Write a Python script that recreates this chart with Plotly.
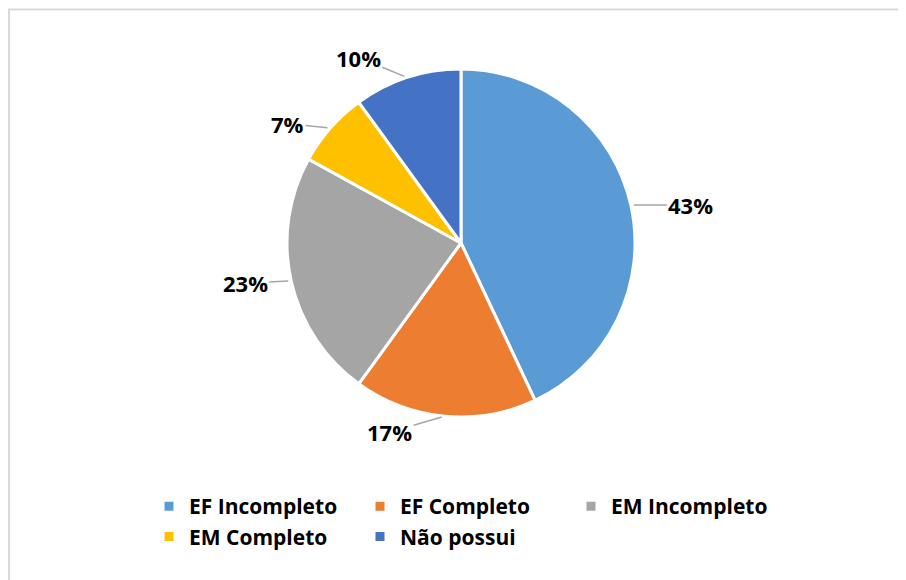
import math
import plotly.graph_objects as go

categories = ["EF Incompleto", "EF Completo", "EM Incompleto", "EM Completo", "Não possui"]
shares = [43, 17, 23, 7, 10]
colors = ["#5B9BD5", "#ED7D31", "#A5A5A5", "#FFC000", "#4472C4"]

# label offsets (pixels) from the slice's outer mid-point to the label centre
label_dx = [60, -55, -46, -43, -49]
label_dy = [0, 16, 2, -4, -20]

W, H = 906, 580
OFF = 8  # page body margin in the browser
L, R, T, B = 92, 92, 61, 171
PW, PH = W - L - R, H - T - B

FONT = "Open Sans, Calibri, sans-serif"


def px_x(p):
    return (p - L) / PW


def px_y(p):
    return 1 - (p - T) / PH


fig = go.Figure(go.Pie(
    labels=categories,
    values=shares,
    sort=False,
    direction="clockwise",
    rotation=0,
    marker=dict(colors=colors, line=dict(color="white", width=3)),
    textinfo="none",
    domain=dict(x=[0, 1], y=[0, 1]),
    hoverinfo="label+percent",
))

# outside percentage labels with leader lines, placed from the data
total = sum(shares)
cx, cy = L + PW / 2, T + PH / 2
rad = min(PW, PH) / 2
annotations = []
cum = 0
for v, dx, dy in zip(shares, label_dx, label_dy):
    mid = (cum + v / 2) / total * 2 * math.pi
    cum += v
    ex = cx + rad * math.sin(mid)
    ey = cy - rad * math.cos(mid)
    annotations.append(dict(
        x=px_x(ex), y=px_y(ey), xref="paper", yref="paper",
        text=f"{round(v / total * 100)}%",
        showarrow=True, arrowhead=0, arrowwidth=1.5, arrowcolor="#A6A6A6",
        ax=dx, ay=dy, standoff=3,
        font=dict(family=FONT, size=22, color="black", weight="bold"),
    ))

fig.update_layout(
    width=W, height=H,
    margin=dict(l=L, r=R, t=T, b=B, autoexpand=False),
    paper_bgcolor="white",
    plot_bgcolor="white",
    font=dict(family=FONT, color="black"),
    showlegend=True,
    legend=dict(
        orientation="h",
        x=px_x(141), xanchor="left",
        y=px_y(478), yanchor="top",
        font=dict(family=FONT, size=21, color="black", weight="bold"),
        entrywidth=166, entrywidthmode="pixels",
        itemclick=False,
    ),
    annotations=annotations,
    shapes=[dict(
        type="rect", xref="paper", yref="paper",
        x0=px_x(1), x1=px_x(W + 10), y0=px_y(H + 10), y1=px_y(9.5 - OFF),
        line=dict(color="#D9D9D9", width=2), fillcolor="rgba(0,0,0,0)",
        layer="below",
    )],
)

fig.write_html("out.html")
